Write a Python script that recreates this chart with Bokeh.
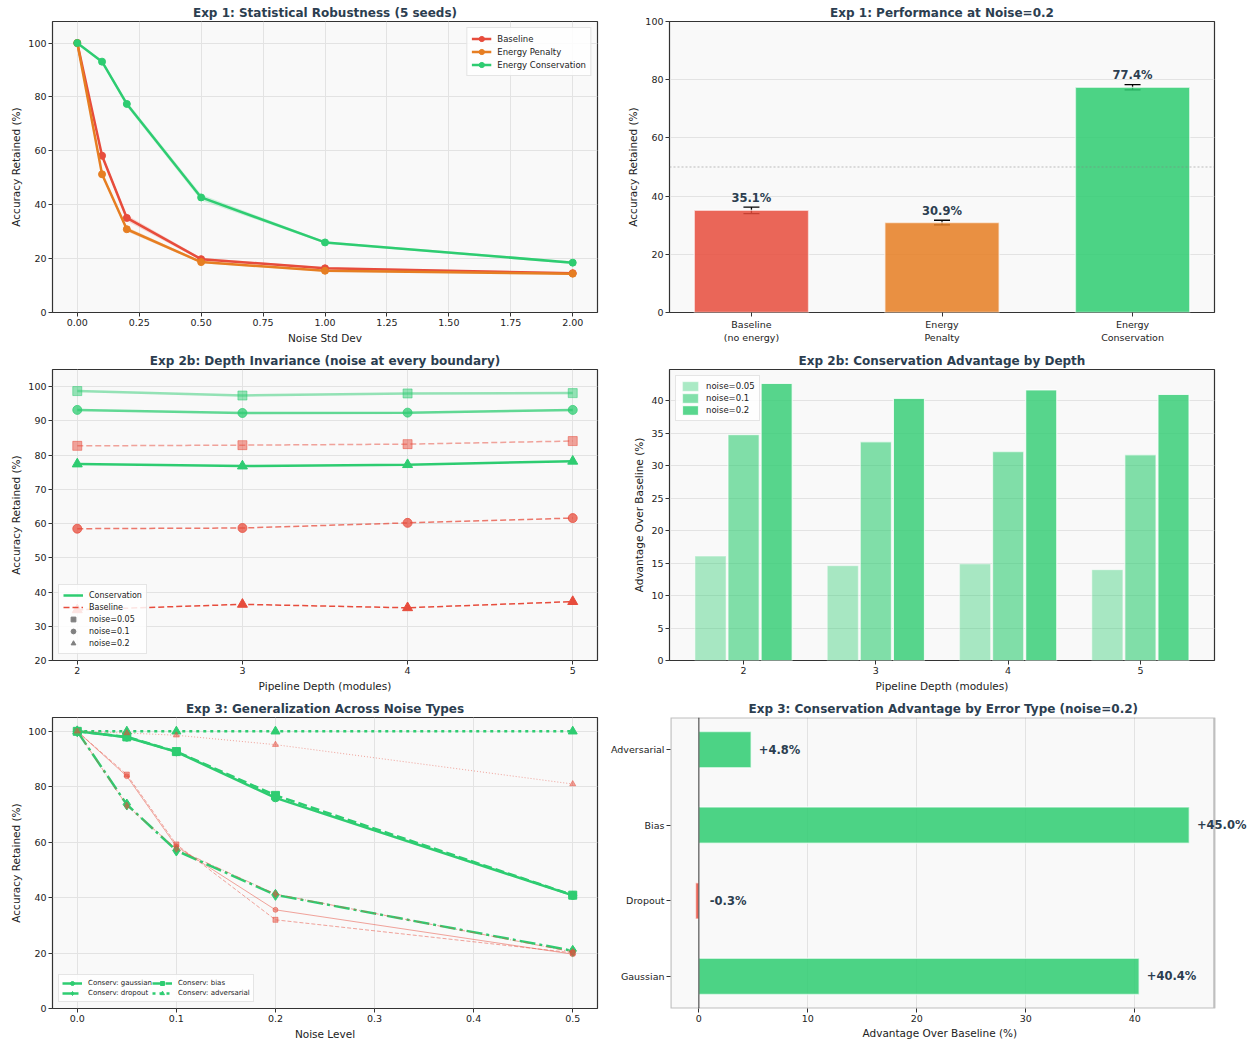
from bokeh.plotting import figure
from bokeh.layouts import column, row
from bokeh.models import (ColumnDataSource, Range1d, FixedTicker, PrintfTickFormatter,
                          Legend, LegendItem, Whisker, TeeHead, LabelSet, Span,
                          BoxAnnotation, Title)
from bokeh.core.properties import value
from bokeh.embed import file_html
from bokeh.resources import INLINE

FONT = "DejaVu Sans"
TITLE_C = "#2c3e50"
RED = "#e74c3c"
ORANGE = "#e67e22"
GREEN = "#2ecc71"

# ---------------- data ----------------
# Exp 1 (5 seeds)
noise_std = [0.0, 0.1, 0.2, 0.5, 1.0, 2.0]
exp1_baseline = [100.0, 58.2, 35.1, 19.8, 16.4, 14.6]
exp1_penalty = [100.0, 51.3, 30.9, 18.7, 15.5, 14.4]
exp1_conserv = [100.0, 93.1, 77.4, 42.7, 26.0, 18.5]
exp1_baseline_std = [0.0, 0.9, 1.1, 0.5, 0.4, 0.3]
exp1_penalty_std = [0.0, 0.7, 0.8, 0.4, 0.4, 0.3]
exp1_conserv_std = [0.0, 0.6, 0.9, 1.1, 0.4, 0.5]
exp1_ticks = [0.0, 0.25, 0.5, 0.75, 1.0, 1.25, 1.5, 1.75, 2.0]

# Exp 1 bars at noise=0.2
bar_methods = ["Baseline\n(no energy)", "Energy\nPenalty", "Energy\nConservation"]
bar_means = [35.1, 30.9, 77.4]
bar_stds = [1.1, 0.8, 0.9]
chance_line = 50

# Exp 2b depth invariance
depths = [2, 3, 4, 5]
noise_labels_2b = ["noise=0.05", "noise=0.1", "noise=0.2"]
cons_005 = [98.7, 97.4, 98.0, 98.1]
cons_01 = [93.2, 92.3, 92.4, 93.2]
cons_02 = [77.4, 76.8, 77.2, 78.2]
base_005 = [82.7, 82.9, 83.2, 84.1]
base_01 = [58.5, 58.7, 60.2, 61.6]
base_02 = [34.8, 36.4, 35.4, 37.2]

# Exp 2b advantage
adv_005 = [16.1, 14.6, 14.9, 14.0]
adv_01 = [34.8, 33.7, 32.2, 31.7]
adv_02 = [42.7, 40.4, 41.7, 41.0]

# Exp 3 noise types
noise3 = [0.0, 0.05, 0.1, 0.2, 0.5]
c_gauss = [100.0, 97.9, 92.6, 76.0, 40.8]
c_drop = [100.0, 73.6, 57.0, 41.0, 20.8]
c_bias = [100.0, 98.0, 92.7, 76.9, 40.9]
c_adv = [100.0, 100.0, 100.0, 100.0, 100.0]
b_gauss = [100.0, 83.8, 58.5, 35.6, 19.6]
b_drop = [100.0, 73.2, 57.6, 41.3, 20.4]
b_bias = [100.0, 84.4, 59.2, 32.0, 20.1]
b_adv = [100.0, 99.4, 98.6, 95.2, 81.0]

# Exp 3 advantage at noise=0.2
err_types = ["Gaussian", "Dropout", "Bias", "Adversarial"]
err_adv = [40.4, -0.3, 45.0, 4.8]


# ---------------- helpers ----------------
def make(title, xr, yr, left=True, bottom=36, fw=545, br=None):
    p = figure(title=title, x_range=xr, y_range=yr,
               frame_width=fw, frame_height=291,
               output_backend="svg", toolbar_location=None,
               min_border_left=52 if left else 62,
               min_border_right=br if br is not None else (10 if left else 20),
               min_border_top=21, min_border_bottom=bottom)
    p.title.text_font = FONT
    p.title.text_font_size = "12px"
    p.title.text_font_style = "bold"
    p.title.text_color = TITLE_C
    p.title.align = "center"
    p.title.standoff = 3
    p.background_fill_color = "#f9f9f9"
    p.border_fill_color = "white"
    p.outline_line_color = "#333333"
    p.outline_line_width = 1.2
    for ax in p.axis:
        ax.axis_line_color = None
        ax.major_tick_line_color = "#333333"
        ax.major_tick_out = 4
        ax.major_tick_in = 0
        ax.minor_tick_line_color = None
        ax.major_label_text_font = FONT
        ax.major_label_text_font_size = "9.5px"
        ax.major_label_text_color = "#222222"
        ax.major_label_standoff = 2
        ax.axis_label_text_font = FONT
        ax.axis_label_text_font_size = "10.5px"
        ax.axis_label_text_font_style = "normal"
        ax.axis_label_text_color = "#222222"
    p.xaxis.axis_label_standoff = 3
    p.yaxis.axis_label_standoff = 3
    p.grid.grid_line_color = "#e3e3e3"
    p.grid.grid_line_width = 1
    return p


def style_legend(lg, size="8.5px"):
    lg.label_text_font = FONT
    lg.label_text_font_size = size
    lg.label_text_color = "#222222"
    lg.background_fill_color = "white"
    lg.background_fill_alpha = 0.85
    lg.border_line_color = "#cccccc"
    lg.border_line_width = 1
    lg.padding = 4
    lg.spacing = 0
    lg.margin = 6
    lg.glyph_width = 20
    lg.glyph_height = 12
    lg.label_height = 12
    lg.label_standoff = 6


# ---------------- Plot 1 ----------------
p1 = make("Exp 1: Statistical Robustness (5 seeds)", Range1d(-0.1, 2.1), Range1d(0, 108))
for vals, std, color, label in [(exp1_baseline, exp1_baseline_std, RED, "Baseline"),
                                (exp1_penalty, exp1_penalty_std, ORANGE, "Energy Penalty"),
                                (exp1_conserv, exp1_conserv_std, GREEN, "Energy Conservation")]:
    lo = [v - s for v, s in zip(vals, std)]
    hi = [v + s for v, s in zip(vals, std)]
    p1.varea(x=noise_std, y1=lo, y2=hi, fill_color=color, fill_alpha=0.2)
    p1.line(noise_std, vals, line_color=color, line_width=2.5, legend_label=label)
    p1.scatter(noise_std, vals, size=7, fill_color=color, line_color=color, legend_label=label)
p1.xaxis.ticker = FixedTicker(ticks=exp1_ticks)
p1.xaxis.formatter = PrintfTickFormatter(format="%.2f")
p1.yaxis.ticker = FixedTicker(ticks=[0, 20, 40, 60, 80, 100])
p1.xaxis.axis_label = "Noise Std Dev"
p1.yaxis.axis_label = "Accuracy Retained (%)"
p1.legend.location = "top_right"
style_legend(p1.legend)
p1.legend.glyph_height = 13
p1.legend.label_height = 13

# ---------------- Plot 2 ----------------
xpos2 = list(range(len(bar_methods)))
src2 = ColumnDataSource(dict(
    x=xpos2, top=bar_means, color=[RED, ORANGE, GREEN],
    upper=[m + s for m, s in zip(bar_means, bar_stds)],
    lower=[m - s for m, s in zip(bar_means, bar_stds)],
    ly=[m + s + 0.8 for m, s in zip(bar_means, bar_stds)],
    txt=[f"{m:.1f}%" for m in bar_means]))
p2 = make("Exp 1: Performance at Noise=0.2", Range1d(-0.43, 2.43), Range1d(0, 100), left=False)
p2.vbar(x="x", top="top", width=0.6, fill_color="color", fill_alpha=0.85,
        line_color="white", line_alpha=0.6, line_width=1.5, source=src2)
p2.add_layout(Span(location=chance_line, dimension="width", line_color="gray",
                   line_alpha=0.5, line_dash="2 2", line_width=1))
p2.add_layout(Whisker(base="x", upper="upper", lower="lower", source=src2,
                      line_color="black", line_width=1.3,
                      upper_head=TeeHead(size=16, line_color="black", line_width=1.3),
                      lower_head=TeeHead(size=16, line_color="black", line_width=1.3)))
p2.add_layout(LabelSet(x="x", y="ly", text="txt", source=src2, text_align="center",
                       text_baseline="bottom", text_font=value(FONT), text_font_size="11.5px",
                       text_font_style="bold", text_color=TITLE_C))
p2.xaxis.ticker = FixedTicker(ticks=xpos2)
p2.xaxis.major_label_overrides = {i: m for i, m in zip(xpos2, bar_methods)}
p2.yaxis.ticker = FixedTicker(ticks=[0, 20, 40, 60, 80, 100])
p2.yaxis.axis_label = "Accuracy Retained (%)"
p2.xgrid.grid_line_color = None

# ---------------- Plot 3 ----------------
p3 = make("Exp 2b: Depth Invariance (noise at every boundary)", Range1d(1.85, 5.15), Range1d(20, 105))
markers = ["square", "circle", "triangle"]
msizes = [9, 9, 10]
alphas = [0.5, 0.75, 1.0]
cons_lines, base_lines = [], []
for cons, base, m, ms, a in zip([cons_005, cons_01, cons_02], [base_005, base_01, base_02],
                                markers, msizes, alphas):
    cons_lines.append(p3.line(depths, cons, line_color=GREEN, line_width=2.5, line_alpha=a))
    p3.scatter(depths, cons, marker=m, size=ms, fill_color=GREEN, line_color=GREEN,
               fill_alpha=a, line_alpha=a)
    base_lines.append(p3.line(depths, base, line_color=RED, line_width=1.5, line_alpha=a,
                              line_dash="6 3"))
    p3.scatter(depths, base, marker=m, size=ms, fill_color=RED, line_color=RED,
               fill_alpha=a, line_alpha=a)
# gray marker keys for the legend only (renderers kept hidden in the plot area)
lg_m = []
for cons, m in zip([cons_005, cons_01, cons_02], markers):
    lg_m.append(p3.scatter(depths, cons, marker=m, size=8, fill_color="gray",
                           line_color="gray", visible=False))
leg3 = Legend(items=[LegendItem(label="Conservation", renderers=[cons_lines[2]]),
                     LegendItem(label="Baseline", renderers=[base_lines[2]])] +
                    [LegendItem(label=lab, renderers=[r]) for lab, r in zip(noise_labels_2b, lg_m)],
              location="bottom_left")
style_legend(leg3, "8px")
leg3.label_height = 12
leg3.glyph_height = 12
p3.add_layout(leg3)
p3.xaxis.ticker = FixedTicker(ticks=depths)
p3.yaxis.ticker = FixedTicker(ticks=[20, 30, 40, 50, 60, 70, 80, 90, 100])
p3.xaxis.axis_label = "Pipeline Depth (modules)"
p3.yaxis.axis_label = "Accuracy Retained (%)"

# ---------------- Plot 4 ----------------
p4 = make("Exp 2b: Conservation Advantage by Depth", Range1d(1.44, 5.56), Range1d(0, 44.85), left=False)
offsets = [-0.25, 0.0, 0.25]
bar_alphas = [0.4, 0.6, 0.8]
for adv, off, a, lab in zip([adv_005, adv_01, adv_02], offsets, bar_alphas, noise_labels_2b):
    p4.vbar(x=[d + off for d in depths], top=adv, width=0.235, fill_color=GREEN, fill_alpha=a,
            line_color="white", line_alpha=a, line_width=1.2, legend_label=lab)
p4.xaxis.ticker = FixedTicker(ticks=depths)
p4.yaxis.ticker = FixedTicker(ticks=[0, 5, 10, 15, 20, 25, 30, 35, 40])
p4.xaxis.axis_label = "Pipeline Depth (modules)"
p4.yaxis.axis_label = "Advantage Over Baseline (%)"
p4.xgrid.grid_line_color = None
p4.legend.location = "top_left"
style_legend(p4.legend, "8.5px")

# ---------------- Plot 5 ----------------
p5 = make("Exp 3: Generalization Across Noise Types", Range1d(-0.025, 0.525), Range1d(0, 105), bottom=33)
types = [("gaussian", c_gauss, b_gauss, "circle", 8, 5, None, None),
         ("dropout", c_drop, b_drop, "diamond", 11, 7, "16 4 3 4", "6 2 1 2"),
         ("bias", c_bias, b_bias, "square", 8, 5, "9 4", "4 2"),
         ("adversarial", c_adv, b_adv, "triangle", 9, 6, "3 4", "1 2")]
items5 = []
for name, cv, bv, m, cs, bs, cdash, bdash in types:
    lc = p5.line(noise3, cv, line_color=GREEN, line_width=2.5,
                 line_dash=cdash if cdash else "solid")
    sc = p5.scatter(noise3, cv, marker=m, size=cs, fill_color=GREEN, line_color=GREEN)
    p5.line(noise3, bv, line_color=RED, line_width=1, line_alpha=0.5,
            line_dash=bdash if bdash else "solid")
    p5.scatter(noise3, bv, marker=m, size=bs, fill_color=RED, line_color=RED,
               fill_alpha=0.5, line_alpha=0.5)
    items5.append(LegendItem(label=f"Conserv: {name}", renderers=[lc, sc]))
leg5 = Legend(items=items5, location="bottom_left", ncols=2)
style_legend(leg5, "7px")
leg5.label_height = 10
leg5.glyph_height = 10
leg5.padding = 3
p5.add_layout(leg5)
p5.xaxis.ticker = FixedTicker(ticks=[0.0, 0.1, 0.2, 0.3, 0.4, 0.5])
p5.xaxis.formatter = PrintfTickFormatter(format="%.1f")
p5.yaxis.ticker = FixedTicker(ticks=[0, 20, 40, 60, 80, 100])
p5.xaxis.axis_label = "Noise Level"
p5.yaxis.axis_label = "Accuracy Retained (%)"

# ---------------- Plot 6 ----------------
# visible axes box spans x in [-2.6, 47.3]; the canvas frame extends further right so the
# value label of the longest bar can spill past the box edge as in the reference
VIS_X0, VIS_X1 = -2.6, 47.3
Y0, Y1 = -0.425, 3.425
ypos6 = list(range(len(err_types)))
src6 = ColumnDataSource(dict(y=ypos6, right=err_adv,
                             color=[GREEN if v >= 0 else RED for v in err_adv]))
src6p = ColumnDataSource(dict(x=[abs(v) + 0.7 for v in err_adv], y=ypos6,
                              txt=[f"+{v:.1f}%" if v >= 0 else f"{v:.1f}%" for v in err_adv]))
p6 = make("Exp 3: Conservation Advantage by Error Type (noise=0.2)", Range1d(VIS_X0, 50.34),
          Range1d(Y0, Y1), left=False, bottom=33, fw=577, br=0)
p6.background_fill_color = "white"
p6.outline_line_color = None
p6.add_layout(BoxAnnotation(left=VIS_X0, right=VIS_X1, bottom=Y0, top=Y1,
                            fill_color="#f9f9f9", fill_alpha=1.0, line_color=None, level="image"))
p6.hbar(y="y", right="right", left=0, height=0.48, fill_color="color", fill_alpha=0.85,
        line_color="white", line_alpha=0.6, line_width=1.5, source=src6)
p6.add_layout(Span(location=0, dimension="height", line_color="black", line_alpha=0.5, line_width=1.5))
p6.add_layout(LabelSet(x="x", y="y", text="txt", source=src6p, text_align="left",
                       text_baseline="middle", text_font=value(FONT), text_font_size="11.5px",
                       text_font_style="bold", text_color=TITLE_C))
p6.add_layout(BoxAnnotation(left=VIS_X0, right=VIS_X1, bottom=Y0, top=Y1,
                            fill_color=None, fill_alpha=0, line_color="#333333", line_width=2.2,
                            level="overlay"))
p6.yaxis.ticker = FixedTicker(ticks=ypos6)
p6.yaxis.major_label_overrides = {i: t for i, t in zip(ypos6, err_types)}
p6.xaxis.ticker = FixedTicker(ticks=[0, 10, 20, 30, 40])
p6.xgrid.ticker = FixedTicker(ticks=[0, 10, 20, 30, 40])
p6.ygrid.grid_line_color = None
# centre title and x label over the visible box rather than the wider canvas frame
p6.title.align = "left"
p6.title.offset = 78
p6.add_layout(Title(text="Advantage Over Baseline (%)", align="left", offset=192,
                    text_font=FONT, text_font_size="10.5px", text_font_style="normal",
                    text_color="#222222", standoff=0), "below")

layout = column(row(p1, p2), row(p3, p4), row(p5, p6))
open("out.html", "w").write(file_html(layout, INLINE))
